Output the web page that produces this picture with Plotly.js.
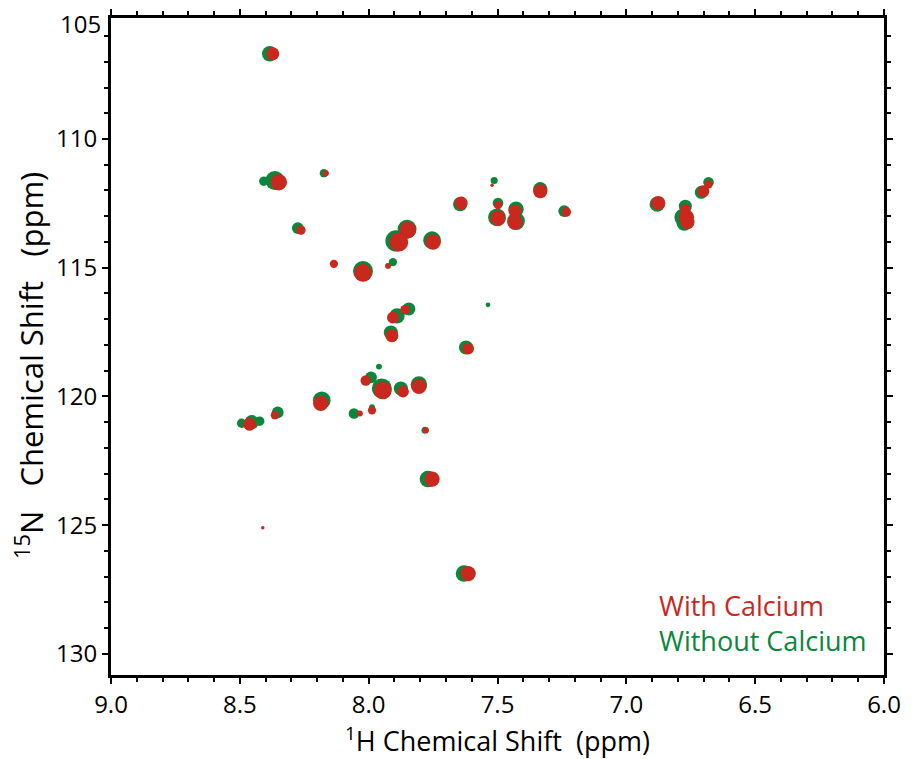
<!DOCTYPE html>
<html>
<head>
<meta charset="utf-8">
<script src="https://cdn.plot.ly/plotly-3.0.1.min.js"></script>
<style>html,body{margin:0;padding:0;background:#fff;}#chart{width:913px;height:759px;}</style>
</head>
<body>
<div id="chart"></div>
<script>
// 1H / 15N chemical shifts (ppm) and relative peak sizes
const withCa_H = [8.372,8.349,8.166,8.263,7.848,7.883,7.750,8.135,7.925,8.022,7.521,7.334,7.641,7.498,7.498,7.432,7.432,7.233,6.876,6.771,6.767,6.763,6.701,6.681,7.859,7.906,7.910,8.011,7.945,7.867,7.805,8.186,8.364,8.462,8.034,7.987,7.778,7.754,7.614,8.411,7.614];
const withCa_N = [106.69,111.68,111.33,113.54,113.54,114.00,114.00,114.85,114.93,115.20,111.80,112.03,112.49,112.57,113.08,112.80,113.23,112.84,112.49,112.73,113.04,113.23,112.03,111.76,116.63,116.94,117.64,119.38,119.77,119.81,119.61,120.27,120.73,121.08,120.66,120.54,121.31,123.21,126.88,125.10,118.14];
const withCa_size = [11,14,5,8,14,16,13,7,5,15,3,12,11,7,13,11,13,8,12,9,13,12,10,7,8,10,11,9,15,10,13,13,7,11,5,7,5,13,13,3,10];

const withoutCa_H = [8.384,8.364,8.407,8.174,8.275,7.851,7.894,7.754,8.135,7.906,8.022,7.513,7.334,7.645,7.498,7.502,7.428,7.428,7.241,6.880,6.771,6.779,6.775,6.709,6.681,7.844,7.890,7.914,7.960,7.991,7.949,7.875,7.805,8.182,8.353,8.454,8.423,8.493,8.057,7.987,7.781,7.770,7.630,7.537,7.622];
const withoutCa_N = [106.69,111.61,111.64,111.33,113.46,113.50,113.96,113.93,114.85,114.78,115.13,111.61,111.95,112.53,112.49,113.04,112.73,113.19,112.80,112.53,112.61,113.04,113.27,112.07,111.68,116.60,116.87,117.52,118.84,119.26,119.69,119.69,119.54,120.15,120.62,121.00,120.96,121.04,120.66,120.42,121.31,123.21,126.88,116.44,118.10];
const withoutCa_size = [13,16,8,7,10,16,18,15,5,7,17,6,12,12,9,15,13,15,10,13,11,15,13,11,9,11,13,12,5,10,17,12,14,15,10,12,8,8,9,5,6,14,14,4,12];

const xTicks = [9.0,8.5,8.0,7.5,7.0,6.5,6.0];
const xTickText = ['9.0','8.5','8.0','7.5','7.0','6.5','6.0'];
const yTicks = [110,115,120,125,130];
const yTickText = ['110','115','120','125','130'];
const seriesNames = ['With Calcium','Without Calcium'];

const RED = '#c8281e';
const GREEN = '#0a873c';
const FONT = 'Open Sans, sans-serif';
const SIZE_SCALE = 1.18;

const traces = [
  {type:'scatter', mode:'markers', name:seriesNames[1], x:withoutCa_H, y:withoutCa_N,
   marker:{color:GREEN, size:withoutCa_size.map(s => s * SIZE_SCALE), opacity:1, line:{width:0}}, hoverinfo:'x+y', showlegend:false},
  {type:'scatter', mode:'markers', name:seriesNames[0], x:withCa_H, y:withCa_N,
   marker:{color:RED, size:withCa_size.map(s => s * SIZE_SCALE), opacity:1, line:{width:0}}, hoverinfo:'x+y', showlegend:false}
];

const axisCommon = {
  showline:true, linecolor:'#000', linewidth:3, mirror:'ticks',
  ticks:'outside', tickcolor:'#000', tickwidth:2, ticklen:6,
  showgrid:false, zeroline:false,
  tickfont:{family:FONT, size:24, color:'#000'}
};

const layout = {
  width:913, height:759,
  margin:{l:111, r:29, t:18, b:84},
  paper_bgcolor:'#fff', plot_bgcolor:'#fff',
  showlegend:false,
  xaxis: Object.assign({}, axisCommon, {
    range:[9.0, 6.0], tickmode:'array', tickvals:xTicks, ticktext:xTickText,
    minor:{dtick:0.1, ticks:'outside', ticklen:4, tickwidth:2, tickcolor:'#000', showgrid:false},
    title:{text:'<sup>1</sup>H Chemical Shift  (ppm)', font:{family:FONT, size:27, color:'#000'}, standoff:8}
  }),
  yaxis: Object.assign({}, axisCommon, {
    range:[130.82, 105.3], tickmode:'array', tickvals:yTicks, ticktext:yTickText,
    minor:{dtick:1, ticks:'outside', ticklen:4, tickwidth:2, tickcolor:'#000', showgrid:false}
  }),
  annotations:[
    {xref:'paper', yref:'paper', x:-0.1048, y:0.472, xanchor:'center', yanchor:'middle', textangle:-90,
     text:'<sup>15</sup>N&nbsp;&nbsp;&nbsp;Chemical Shift&nbsp;&nbsp;&nbsp;(ppm)', showarrow:false,
     font:{family:FONT, size:31, color:'#000'}},
    {xref:'paper', yref:'y', x:0, y:105.53, xanchor:'right', yanchor:'middle', xshift:-8,
     text:'105', showarrow:false, font:{family:FONT, size:24, color:'#000'}},
    {xref:'paper', yref:'paper', x:0.706, y:0.1065, xanchor:'left', yanchor:'middle',
     text:seriesNames[0], showarrow:false, font:{family:FONT, size:27, color:RED}},
    {xref:'paper', yref:'paper', x:0.706, y:0.0518, xanchor:'left', yanchor:'middle',
     text:seriesNames[1], showarrow:false, font:{family:FONT, size:27, color:GREEN}}
  ]
};

Plotly.newPlot('chart', traces, layout, {displayModeBar:false, staticPlot:true});
</script>
</body>
</html>
